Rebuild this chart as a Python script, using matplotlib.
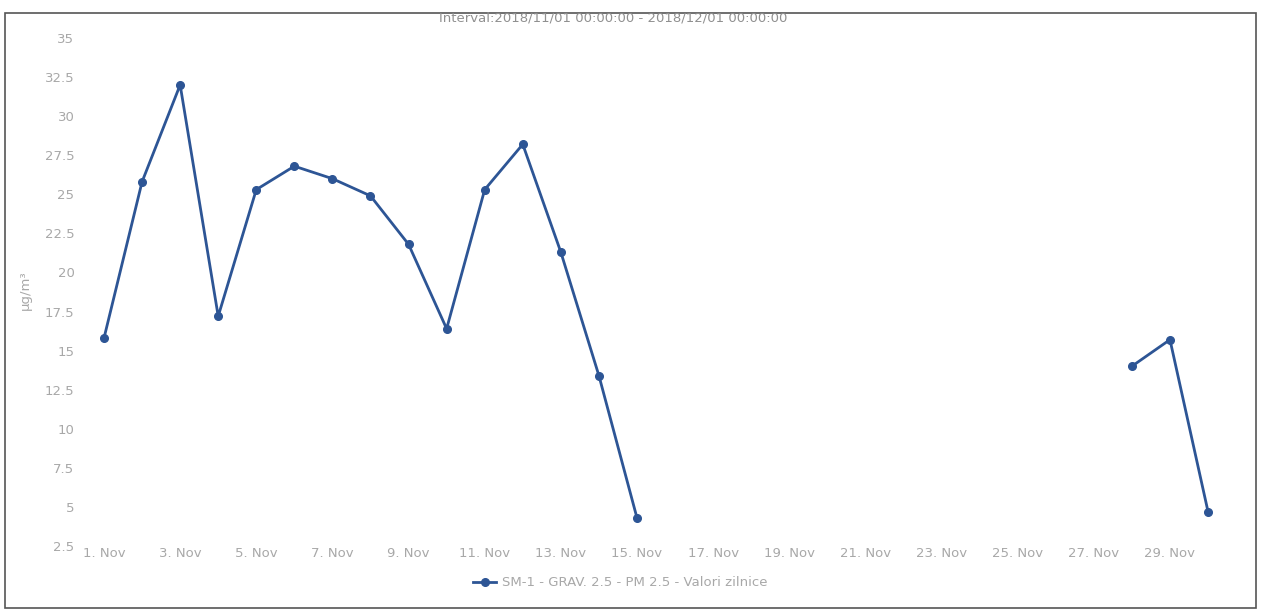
import numpy as np
import matplotlib.pyplot as plt
from matplotlib.patches import Rectangle

# zile din noiembrie si valori zilnice PM 2.5 (ug/m3), lipsa = nan
zile = np.arange(1, 31)
valori = [15.8, 25.8, 32.0, 17.2, 25.3, 26.8, 26.0, 24.9, 21.8, 16.4,
          25.3, 28.2, 21.3, 13.4, 4.3, np.nan, np.nan, np.nan, np.nan, np.nan,
          np.nan, np.nan, np.nan, np.nan, np.nan, np.nan, np.nan, 14.0, 15.7, 4.7]
yticks = np.arange(2.5, 35.1, 2.5)
xticks = np.arange(1, 30, 2)
xlabels = ["%d. Nov" % d for d in xticks]

culoare = "#2d5595"
gri = "#a8a8a8"
fs = 9.5

fig = plt.figure(figsize=(12.62, 6.14), dpi=100)
ax = fig.add_axes([80/1262, 1-546/614, (1230-80)/1262, (546-38)/614])

ax.plot(zile, valori, color=culoare, lw=2.0, marker="o", ms=5.5,
        label="SM-1 - GRAV. 2.5 - PM 2.5 - Valori zilnice")

ax.set_xlim(1 + (80-104)/38.07, 1 + (1230-104)/38.07)
ax.set_ylim(2.5, 35)
ax.set_yticks(yticks)
ax.set_yticklabels(["%g" % v for v in yticks])
ax.set_xticks(xticks)
ax.set_xticklabels(xlabels)
ax.tick_params(length=0, labelsize=fs, labelcolor=gri)
ax.tick_params(axis="y", pad=4)
ax.tick_params(axis="x", pad=1)
for s in ax.spines.values():
    s.set_visible(False)

fig.text(25/1262, 1-290/614, "µg/m³", rotation=90, ha="center", va="center",
         fontsize=fs, color=gri)
fig.text(613/1262, 1-18/614, "Interval:2018/11/01 00:00:00 - 2018/12/01 00:00:00",
         ha="center", va="center", fontsize=fs, color="#909090")

leg = fig.legend(loc="center", bbox_to_anchor=(620/1262, 1-583/614), frameon=False,
                 fontsize=fs, handlelength=1.8, handletextpad=0.4)
for t in leg.get_texts():
    t.set_color(gri)

# chenar exterior
fig.add_artist(Rectangle((5/1262, 1-608/614), (1256-5)/1262, (608-13)/614,
                         transform=fig.transFigure, fill=False,
                         edgecolor="#555555", lw=1.2))

plt.savefig("out.png", dpi=100)
